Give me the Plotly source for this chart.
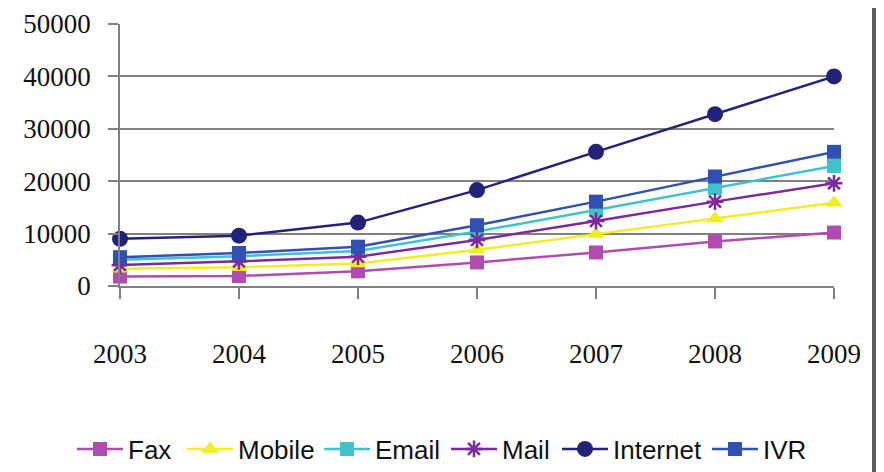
import plotly.graph_objects as go

years = ["2003", "2004", "2005", "2006", "2007", "2008", "2009"]
fax = [1800, 1900, 2800, 4500, 6400, 8500, 10200]
mobile = [3300, 3600, 4300, 6900, 9900, 12900, 15900]
email = [5000, 5700, 6700, 10400, 14500, 18700, 22900]
mail = [4000, 4700, 5600, 8800, 12400, 16100, 19600]
internet = [9000, 9600, 12100, 18300, 25600, 32800, 40000]
ivr = [5500, 6300, 7500, 11600, 16100, 20900, 25600]

series = [
    ("Fax", fax, "#b04cb0", "square", 14),
    ("Mobile", mobile, "#eeee22", "triangle-up", 15),
    ("Email", email, "#3ec3cc", "square", 14),
    ("Mail", mail, "#7a2a9a", "asterisk-open", 14),
    ("Internet", internet, "#22227a", "circle", 16),
    ("IVR", ivr, "#3050b4", "square", 14),
]
# legend entry left edges (page pixels) in the reference
legend_left = [72, 182, 319, 446, 557, 707]

OFF = 8  # page body margin
W, H = 884 - OFF, 472 - OFF
L, R, T, B = 120 - OFF, 834 - OFF, 24 - OFF, 286 - OFF

fig = go.Figure()
legends = {}
for i, (name, vals, col, sym, sz) in enumerate(series):
    key = "legend" if i == 0 else f"legend{i + 1}"
    fig.add_trace(go.Scatter(
        x=years, y=vals, name=name, mode="lines+markers",
        line=dict(color=col, width=2.5),
        marker=dict(symbol=sym, size=sz, color=col,
                    line=dict(color=col, width=2.5 if "asterisk" in sym else 0)),
        cliponaxis=False, legend=key,
    ))
    legends[key] = dict(
        orientation="h", xref="container", yref="container",
        x=(legend_left[i] - OFF) / W, xanchor="left",
        y=1 - (449 - OFF) / H, yanchor="middle",
        font=dict(family="Liberation Sans", size=26, color="#111111"),
        itemwidth=46, bgcolor="rgba(0,0,0,0)",
    )

pw = R - L
ph = B - T
shapes = [
    dict(type="rect", xref="paper", yref="paper",
         x0=(872 - OFF - L) / pw, x1=(890 - OFF - L) / pw, y0=(B - H) / ph, y1=B / ph,
         fillcolor="#5c5c5c", line=dict(width=0), layer="above"),
]

fig.update_layout(
    width=W, height=H, autosize=False,
    margin=dict(l=L, r=W - R, t=T, b=H - B, pad=0, autoexpand=False),
    paper_bgcolor="white", plot_bgcolor="white",
    shapes=shapes,
    font=dict(family="Liberation Serif", color="#111111"),
    xaxis=dict(
        type="category", range=[0, 6], automargin=False,
        showgrid=False, showline=True, linecolor="#808080", linewidth=1.5,
        ticks="outside", ticklen=11, tickcolor="#808080", tickwidth=1.5,
        tickfont=dict(family="Liberation Serif", size=27, color="#111111"),
        ticklabelstandoff=32,
        zeroline=False,
    ),
    yaxis=dict(
        range=[0, 50000], dtick=10000, tickformat="d", automargin=False,
        showgrid=True, gridcolor="#808080", gridwidth=1.5,
        showline=True, linecolor="#808080", linewidth=1.5,
        ticks="outside", ticklen=10, tickcolor="#808080", tickwidth=1.5,
        tickfont=dict(family="Liberation Serif", size=27, color="#111111"),
        ticklabelstandoff=12,
        zeroline=False,
    ),
    showlegend=True,
    **legends,
)

fig.write_html("out.html")
